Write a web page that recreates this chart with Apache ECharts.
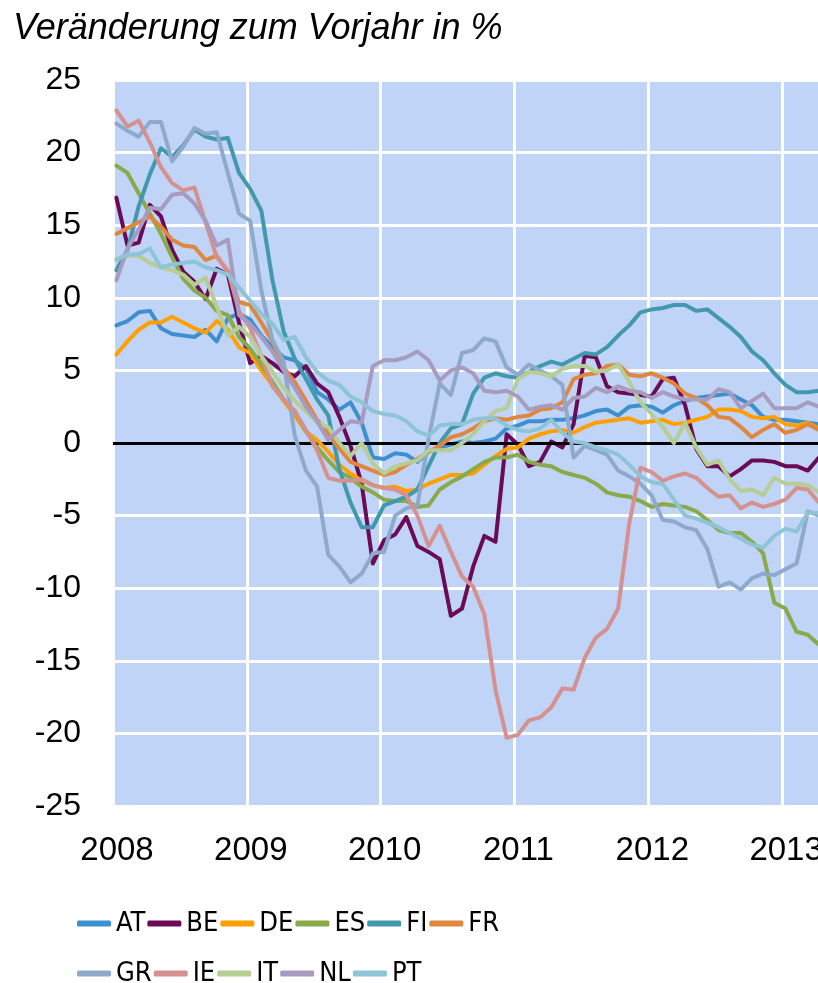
<!DOCTYPE html>
<html>
<head>
<meta charset="utf-8">
<title>Veränderung zum Vorjahr in %</title>
<script src="https://cdn.jsdelivr.net/npm/echarts@6/dist/echarts.min.js"></script>
<style>
    html, body { margin: 0; padding: 0; background: #fff; overflow: hidden; }
    #chart { width: 880px; height: 983px; }
</style>
</head>
<body>
<div id="chart"></div>
<script>
// Monatswerte Jan 2008 - Apr 2013 (64 Monate), Veränderung zum Vorjahr in %
var years = ['2008', '2009', '2010', '2011', '2012', '2013'];
var row1 = ['AT', 'BE', 'DE', 'ES', 'FI', 'FR'];
var row2 = ['GR', 'IE', 'IT', 'NL', 'PT'];

var AT = [8.1, 8.4, 9.0, 9.1, 7.9, 7.5, 7.4, 7.3, 7.8, 7.0,
    8.6, 8.9, 8.5, 7.4, 6.6, 5.9, 5.7, 5.1, 3.5, 3.0,
    2.3, 2.8, 1.4, -1.0, -1.1, -0.7, -0.8, -1.3, -0.6, -0.3,
    -0.1, 0.1, 0.0, 0.1, 0.3, 1.0, 1.2, 1.5, 1.5, 1.6,
    1.6, 1.7, 1.9, 2.2, 2.3, 1.9, 2.5, 2.6, 2.5, 2.1,
    2.6, 2.9, 3.1, 3.2, 3.3, 3.4, 3.0, 2.6, 1.8, 1.6,
    1.6, 1.5, 1.4, 1.3];
var BE = [16.9, 13.6, 13.8, 16.4, 15.6, 13.3, 11.8, 11.1, 9.9, 12.0,
    11.6, 8.3, 5.5, 6.0, 5.5, 4.9, 4.6, 5.3, 4.1, 3.5,
    1.8, -0.2, -2.8, -8.3, -6.7, -6.3, -5.1, -7.1, -7.5, -8.0,
    -11.9, -11.4, -8.5, -6.4, -6.8, 0.6, -0.1, -1.6, -1.3, 0.1,
    -0.3, 1.3, 6.0, 5.9, 3.9, 3.5, 3.4, 3.3, 3.2, 4.4,
    4.5, 2.6, -0.4, -1.6, -1.6, -2.3, -1.8, -1.2, -1.2, -1.3,
    -1.6, -1.6, -1.9, -1.0];
var DE = [6.1, 7.0, 7.8, 8.3, 8.3, 8.7, 8.3, 7.9, 7.6, 8.4,
    7.8, 6.6, 6.2, 5.0, 4.0, 2.9, 1.9, 0.8, 0.2, -0.6,
    -1.5, -2.1, -2.6, -2.9, -3.1, -3.0, -3.3, -3.2, -2.8, -2.5,
    -2.2, -2.2, -2.1, -1.5, -0.9, -0.4, -0.3, 0.3, 0.6, 0.8,
    0.9, 0.7, 1.1, 1.4, 1.5, 1.6, 1.7, 1.4, 1.5, 1.6,
    1.3, 1.4, 1.6, 1.8, 2.3, 2.3, 2.2, 1.8, 1.7, 1.8,
    1.3, 1.2, 1.4, 1.0];
var ES = [19.1, 18.6, 17.2, 15.8, 14.4, 12.8, 11.3, 10.5, 10.0, 9.1,
    8.8, 7.3, 6.5, 5.4, 4.2, 3.0, 2.2, 0.8, -0.3, -1.2,
    -2.0, -2.4, -3.0, -3.4, -3.9, -4.0, -4.0, -4.4, -4.3, -3.2,
    -2.7, -2.3, -1.8, -1.3, -1.0, -1.0, -0.8, -1.3, -1.5, -1.6,
    -2.0, -2.2, -2.4, -2.8, -3.4, -3.6, -3.7, -4.0, -4.4, -4.2,
    -4.3, -4.4, -4.7, -5.3, -6.0, -6.2, -6.2, -6.8, -7.6, -11.0,
    -11.4, -13.0, -13.2, -13.9];
var FI = [11.9, 13.3, 16.3, 18.5, 20.3, 19.7, 20.5, 21.6, 21.1, 20.9,
    21.0, 18.6, 17.5, 16.0, 11.2, 7.7, 5.8, 4.4, 3.0, 1.9,
    -1.8, -4.1, -5.8, -5.8, -4.3, -4.0, -3.7, -3.2, -1.6, 0.0,
    1.0, 1.3, 3.4, 4.5, 4.8, 4.6, 4.5, 4.9, 5.3, 5.6,
    5.4, 5.8, 6.2, 6.1, 6.6, 7.4, 8.1, 9.0, 9.2, 9.3,
    9.5, 9.5, 9.1, 9.2, 8.6, 8.0, 7.3, 6.3, 5.7, 4.8,
    4.0, 3.5, 3.5, 3.6];
var FR = [14.4, 14.8, 15.2, 15.6, 14.9, 14.0, 13.6, 13.5, 12.6, 12.9,
    11.8, 9.7, 9.5, 8.3, 7.0, 5.2, 4.2, 2.9, 1.6, 0.7,
    -0.4, -1.3, -1.6, -1.9, -2.2, -2.0, -1.5, -1.1, -0.6, -0.2,
    0.4, 0.6, 1.0, 1.5, 1.7, 1.6, 1.8, 1.9, 2.3, 2.4,
    2.8, 4.4, 4.7, 4.8, 5.3, 5.4, 4.7, 4.6, 4.8, 4.5,
    4.1, 3.4, 3.1, 2.6, 1.8, 1.7, 1.1, 0.4, 0.9, 1.3,
    0.7, 0.9, 1.3, 0.9];
var GR = [22.0, 21.5, 21.1, 22.1, 22.1, 19.4, 20.4, 21.7, 21.3, 21.4,
    18.6, 15.8, 15.3, 10.5, 7.1, 5.6, 0.5, -1.9, -3.0, -7.7,
    -8.5, -9.6, -9.0, -7.6, -7.5, -5.0, -4.5, -4.3, 0.3, 4.1,
    3.3, 6.2, 6.4, 7.2, 7.0, 5.2, 4.7, 5.4, 5.0, 4.6,
    4.0, -1.0, -0.2, -0.5, -0.8, -1.9, -2.3, -2.8, -3.6, -5.3,
    -5.4, -5.8, -6.0, -7.3, -9.9, -9.6, -10.1, -9.3, -9.0, -9.1,
    -8.7, -8.3, -4.7, -5.0];
var IE = [22.9, 21.8, 22.2, 20.7, 19.0, 17.9, 17.4, 17.6, 15.2, 12.8,
    11.9, 9.1, 7.9, 6.0, 3.9, 3.0, 2.2, 0.9, -0.5, -2.4,
    -2.6, -2.6, -2.5, -2.9, -3.1, -3.2, -3.6, -5.0, -7.1, -5.7,
    -7.5, -9.2, -9.9, -11.8, -17.0, -20.3, -20.1, -19.1, -18.9, -18.2,
    -16.9, -17.0, -14.8, -13.4, -12.8, -11.4, -5.5, -1.7, -2.0, -2.6,
    -2.3, -2.1, -2.4, -3.1, -3.7, -3.6, -4.5, -4.1, -4.4, -4.2,
    -3.9, -3.1, -3.2, -4.1];
var IT = [12.7, 12.9, 12.9, 12.4, 12.1, 11.9, 11.6, 10.9, 11.4, 9.4,
    7.4, 8.0, 7.3, 6.0, 4.9, 3.8, 2.9, 2.2, 1.4, 1.1,
    0.0, -0.9, 0.0, -1.4, -2.1, -1.6, -1.4, -1.2, -0.5, -0.5,
    -0.5, 0.0, 0.6, 1.5, 2.2, 2.4, 4.4, 4.9, 4.8, 4.6,
    5.1, 5.3, 5.3, 4.9, 5.0, 5.4, 4.2, 2.8, 2.0, 1.1,
    0.0, 1.4, -0.3, -1.5, -1.2, -2.5, -3.3, -3.2, -3.6, -2.4,
    -2.8, -2.8, -2.9, -3.4];
var NL = [11.2, 13.4, 14.7, 16.2, 16.1, 17.1, 17.2, 16.5, 15.3, 13.6,
    14.0, 8.8, 8.2, 7.3, 6.3, 5.0, 3.8, 2.5, 1.5, 0.2,
    0.9, 1.5, 1.4, 5.3, 5.7, 5.7, 5.9, 6.3, 5.7, 4.3,
    5.0, 5.2, 4.8, 3.6, 3.5, 3.6, 3.2, 2.3, 2.5, 2.6,
    2.3, 3.1, 3.2, 3.8, 3.5, 3.9, 3.6, 3.5, 3.1, 3.5,
    3.2, 3.0, 3.0, 3.0, 3.7, 3.5, 2.4, 2.9, 3.4, 2.4,
    2.4, 2.4, 2.8, 2.5];
var PT = [12.6, 13.0, 13.0, 13.4, 12.1, 12.3, 12.4, 12.5, 12.1, 11.9,
    11.6, 10.7, 9.8, 8.9, 8.2, 7.1, 7.3, 5.9, 4.9, 4.3,
    4.0, 3.2, 2.8, 2.2, 2.0, 1.9, 1.5, 0.8, 0.5, 1.2,
    1.3, 1.3, 1.6, 1.7, 1.7, 1.2, 0.9, 0.8, 1.0, 1.6,
    0.7, 0.1, 0.0, -0.3, -0.5, -0.8, -1.5, -2.3, -2.7, -2.8,
    -3.9, -5.0, -5.2, -5.5, -5.8, -6.2, -6.6, -7.0, -7.2, -6.4,
    -5.9, -6.1, -4.8, -4.8];

var values = {AT: AT, BE: BE, DE: DE, ES: ES, FI: FI, FR: FR,
    GR: GR, IE: IE, IT: IT, NL: NL, PT: PT};
var colors = {
    AT: '#3d8fcf', BE: '#6b0a56', DE: '#ffa000', ES: '#8aaa4a',
    FI: '#4299ae', FR: '#e0873e', GR: '#8ea9cc', IE: '#d5918f',
    IT: '#b6cd93', NL: '#a79bc0', PT: '#8dc4d6'
};

var font = "'Liberation Sans', Arial, sans-serif";
var narrow = "'Liberation Sans Narrow', 'DejaVu Sans Condensed', sans-serif";

// Monatswert i liegt etwas nach dem Monatsanfang
function toPoints(arr) {
    return arr.map(function (v, i) { return [i + 0.3, v]; });
}

var series = row1.concat(row2).map(function (name, k) {
    var s = {
        name: name,
        type: 'line',
        data: toPoints(values[name]),
        symbol: 'none',
        color: colors[name],
        lineStyle: { width: 4, join: 'round', cap: 'round' },
        z: 3 + k
    };
    if (k === 0) {
        s.markLine = {
            silent: true,
            symbol: ['none', 'none'],
            label: { show: false },
            lineStyle: { color: '#000', width: 3, type: 'solid' },
            data: [{ yAxis: 0 }]
        };
    }
    return s;
});

function legend(names, top) {
    return {
        data: names,
        left: 77,
        top: top,
        padding: 0,
        orient: 'horizontal',
        icon: 'roundRect',
        itemWidth: 34,
        itemHeight: 6,
        itemGap: 2,
        formatter: '{n|{name}}',
        textStyle: {
            rich: { n: { width: 27, fontSize: 27, fontFamily: narrow, color: '#000' } }
        }
    };
}

var chart = echarts.init(document.getElementById('chart'));
chart.setOption({
    animation: false,
    backgroundColor: '#fff',
    title: {
        text: 'Veränderung zum Vorjahr in %',
        left: 8,
        top: 6,
        textStyle: { fontFamily: font, fontStyle: 'italic', fontWeight: 'normal', fontSize: 36, color: '#000' }
    },
    legend: [legend(row1, 910), legend(row2, 960)],
    grid: {
        left: 113, top: 80, width: 736, height: 726,
        show: true, backgroundColor: '#c0d4f8', borderWidth: 0
    },
    xAxis: {
        type: 'value',
        min: 0, max: 66, interval: 12,
        axisLine: { show: false },
        axisTick: { show: false },
        splitLine: { show: true, lineStyle: { color: '#fff', width: 3 } },
        axisLabel: {
            margin: 28,
            padding: [0, 0, 0, 8],
            fontSize: 33, fontFamily: font, color: '#000',
            formatter: function (v) { return years[v / 12] || ''; }
        }
    },
    yAxis: {
        type: 'value',
        min: -25, max: 25, interval: 5,
        axisLine: { show: false },
        axisTick: { show: false },
        splitLine: { show: true, lineStyle: { color: '#fff', width: 3 } },
        axisLabel: { margin: 32, fontSize: 32, fontFamily: font, color: '#000' }
    },
    series: series
});
</script>
</body>
</html>
